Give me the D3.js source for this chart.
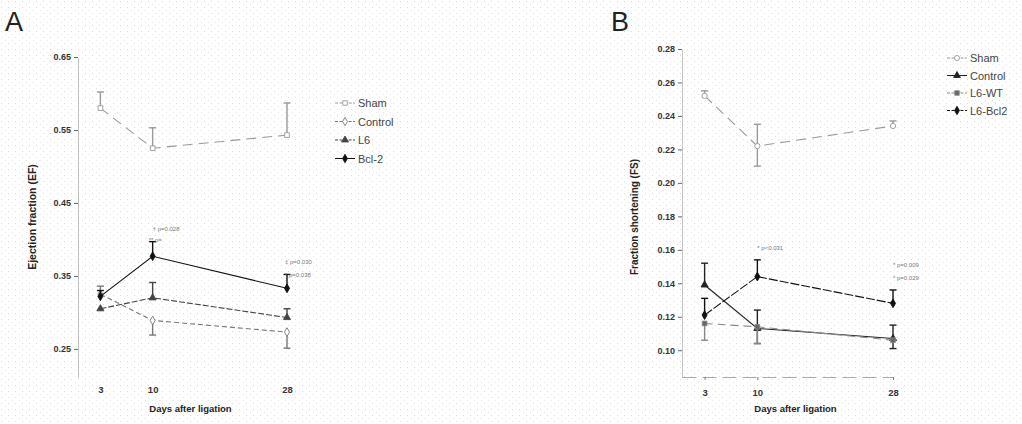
<!DOCTYPE html>
<html>
<head>
<meta charset="utf-8">
<script src="https://cdn.jsdelivr.net/npm/d3@7"></script>
<style>
  body { margin: 0; background: #fff; }
  svg { font-family: "Liberation Sans", Arial, sans-serif; }
  .tick text { font-weight: bold; fill: #333; }
</style>
</head>
<body>
<div id="chart"></div>
<script>
var width = 1022,
    height = 424;

// days after ligation
var days = [3, 10, 28];

// panel A - ejection fraction
var aNames = ["Sham", "Control", "L6", "Bcl-2"];
var aSham = [0.580, 0.525, 0.543], aShamUp = [0.022, 0.028, 0.044], aShamDn = [0, 0, 0];
var aCtrl = [0.325, 0.289, 0.273], aCtrlUp = [0.011, 0, 0], aCtrlDn = [0, 0.020, 0.022];
var aL6 = [0.305, 0.320, 0.293], aL6Up = [0, 0.021, 0.012], aL6Dn = [0, 0, 0];
var aBcl = [0.322, 0.377, 0.333], aBclUp = [0.008, 0.020, 0.019], aBclDn = [0, 0, 0];
var aTicks = [0.25, 0.35, 0.45, 0.55, 0.65];

// panel B - fraction shortening
var bNames = ["Sham", "Control", "L6-WT", "L6-Bcl2"];
var bSham = [0.252, 0.222, 0.234], bShamUp = [0.003, 0.013, 0.003], bShamDn = [0, 0.012, 0];
var bCtrl = [0.139, 0.113, 0.107], bCtrlUp = [0.013, 0.011, 0.008], bCtrlDn = [0, 0.009, 0.006];
var bWT = [0.116, 0.114, 0.106], bWTUp = [0, 0, 0], bWTDn = [0.010, 0.010, 0];
var bBcl = [0.121, 0.144, 0.128], bBclUp = [0.010, 0.010, 0.008], bBclDn = [0, 0, 0];
var bTicks = [0.10, 0.12, 0.14, 0.16, 0.18, 0.20, 0.22, 0.24, 0.26, 0.28];

var svg = d3.select("#chart").append("svg")
    .attr("width", width)
    .attr("height", height);

// faint scan stipple
var pat = svg.append("defs").append("pattern")
    .attr("id", "stip").attr("width", 7).attr("height", 6)
    .attr("patternUnits", "userSpaceOnUse");
pat.append("rect").attr("x", 1).attr("y", 1).attr("width", 1).attr("height", 1).attr("fill", "#ddd");
pat.append("rect").attr("x", 5).attr("y", 4).attr("width", 1).attr("height", 1).attr("fill", "#e6e6e6");
svg.append("rect").attr("width", width).attr("height", height).attr("fill", "url(#stip)");

var styles = [
    { stroke: "#999", dash: "10,6", marker: "square", fill: "#fff" },
    { stroke: "#777", dash: "5,3", marker: "diamond", fill: "#fff" },
    { stroke: "#444", dash: "6,2", marker: "triangle", fill: "#444" },
    { stroke: "#111", dash: null, marker: "diamond", fill: "#111" }
];
var stylesB = [
    { stroke: "#999", dash: "10,6", marker: "circle", fill: "#fff" },
    { stroke: "#222", dash: null, marker: "triangle", fill: "#222" },
    { stroke: "#888", dash: "8,5", marker: "square", fill: "#666" },
    { stroke: "#111", dash: "9,2", marker: "diamond", fill: "#111" }
];

var symbols = {
    square: d3.symbolSquare,
    diamond: d3.symbolDiamond,
    triangle: d3.symbolTriangle,
    circle: d3.symbolCircle
};

function panel(opt) {
    var g = svg.append("g");
    var x = d3.scaleLinear().domain([0, 28]).range(opt.xr);
    var y = d3.scaleLinear().domain(opt.yd).range([377, opt.ytop]);

    var ya = g.append("g")
        .attr("transform", "translate(" + opt.xr[0] + ",0)")
        .call(d3.axisLeft(y).tickValues(opt.ticks).tickSize(4).tickSizeOuter(0).tickFormat(d3.format(".2f")));
    ya.select(".domain").attr("stroke", "#888").attr("stroke-dasharray", "1,1");
    ya.selectAll(".tick line").attr("stroke", "#666");
    ya.selectAll(".tick text").attr("font-size", 9);

    var xa = g.append("g")
        .attr("transform", "translate(0,377)")
        .call(d3.axisBottom(x).tickValues(days).tickSize(opt.xline ? 3 : 0).tickSizeOuter(0).tickPadding(9));
    xa.select(".domain").attr("stroke", opt.xline ? "#aaa" : "none").attr("stroke-dasharray", "14,6");
    xa.selectAll(".tick line").attr("stroke", "#777");
    xa.selectAll(".tick text").attr("font-size", 9.5).attr("fill", "#111");

    g.append("text")
        .attr("x", (x(0) + x(28)) / 2 + 8).attr("y", 412)
        .attr("text-anchor", "middle")
        .attr("font-size", 9.5).attr("font-weight", "bold").attr("fill", "#222")
        .text("Days after ligation");

    g.append("text")
        .attr("transform", "translate(" + opt.ylabX + ",217) rotate(-90)")
        .attr("text-anchor", "middle")
        .attr("font-size", opt.ylabSize).attr("font-weight", "bold").attr("fill", "#222")
        .text(opt.ylabel);

    g.append("text")
        .attr("x", opt.letterX).attr("y", 31)
        .attr("font-size", 27).attr("fill", "#222")
        .text(opt.letter);

    var line = d3.line().x(function (d) { return x(d[0]); }).y(function (d) { return y(d[1]); });

    opt.series.forEach(function (s, i) {
        var st = opt.styles[i];
        var pts = days.map(function (d, j) { return [d, s.v[j], s.up[j], s.dn[j]]; });

        g.append("path")
            .datum(pts)
            .attr("d", line)
            .attr("fill", "none")
            .attr("stroke", st.stroke)
            .attr("stroke-width", 1.1)
            .attr("stroke-dasharray", st.dash);

        pts.forEach(function (p) {
            var lo = y(p[1] - p[3]), hi = y(p[1] + p[2]);
            if (p[2] === 0 && p[3] === 0) return;
            g.append("line").attr("x1", x(p[0])).attr("x2", x(p[0]))
                .attr("y1", lo).attr("y2", hi).attr("stroke", st.stroke).attr("stroke-width", 1.4);
            [lo, hi].forEach(function (yy, k) {
                if ((k === 0 && p[3] === 0) || (k === 1 && p[2] === 0)) return;
                g.append("line").attr("x1", x(p[0]) - 3.5).attr("x2", x(p[0]) + 3.5)
                    .attr("y1", yy).attr("y2", yy).attr("stroke", st.stroke).attr("stroke-width", 1.4);
            });
        });

        g.selectAll(null)
            .data(pts)
            .enter().append("path")
            .attr("transform", function (d) { return "translate(" + x(d[0]) + "," + y(d[1]) + ")"; })
            .attr("d", d3.symbol().type(symbols[st.marker]).size(22))
            .attr("fill", st.fill)
            .attr("stroke", st.stroke)
            .attr("stroke-width", 0.9);
    });

    // significance notes
    opt.notes.forEach(function (n) {
        g.append("text")
            .attr("x", x(n.d) + n.dx).attr("y", y(n.v))
            .attr("font-size", 6).attr("fill", "#777")
            .text(n.t);
    });

    // legend
    var lg = g.append("g").attr("transform", "translate(" + opt.legX + "," + opt.legY + ")");
    opt.names.forEach(function (name, i) {
        var st = opt.styles[i];
        var row = lg.append("g").attr("transform", "translate(0," + (i * opt.legStep) + ")");
        row.append("line").attr("x1", 0).attr("x2", 20).attr("y1", 0).attr("y2", 0)
            .attr("stroke", st.stroke).attr("stroke-width", 1).attr("stroke-dasharray", st.dash ? "3,1.5" : null);
        row.append("path").attr("transform", "translate(10,0)")
            .attr("d", d3.symbol().type(symbols[st.marker]).size(20))
            .attr("fill", st.fill).attr("stroke", st.stroke).attr("stroke-width", 0.9);
        row.append("text").attr("x", 23).attr("y", 4)
            .attr("font-size", 11).attr("fill", "#444")
            .text(name);
    });
}

panel({
    letter: "A", letterX: 5,
    xr: [78, 287], yd: [0.2115, 0.65], ytop: 57, ticks: aTicks,
    ylabel: "Ejection  fraction (EF)", ylabX: 36, ylabSize: 10.5, xline: false,
    names: aNames, styles: styles,
    series: [
        { v: aSham, up: aShamUp, dn: aShamDn },
        { v: aCtrl, up: aCtrlUp, dn: aCtrlDn },
        { v: aL6, up: aL6Up, dn: aL6Dn },
        { v: aBcl, up: aBclUp, dn: aBclDn }
    ],
    notes: [
        { d: 10, dx: 0, v: 0.412, t: "† p=0.028" },
        { d: 10, dx: -4, v: 0.396, t: "** p=" },
        { d: 28, dx: -2, v: 0.366, t: "‡ p=0.030" },
        { d: 28, dx: -2, v: 0.348, t: "* p=0.038" }
    ],
    legX: 335, legY: 103, legStep: 18.5
});

panel({
    letter: "B", letterX: 611,
    xr: [682, 893], yd: [0.084, 0.28], ytop: 49, ticks: bTicks,
    ylabel: "Fraction  shortening  (FS)", ylabX: 638, ylabSize: 10, xline: true,
    names: bNames, styles: stylesB,
    series: [
        { v: bSham, up: bShamUp, dn: bShamDn },
        { v: bCtrl, up: bCtrlUp, dn: bCtrlDn },
        { v: bWT, up: bWTUp, dn: bWTDn },
        { v: bBcl, up: bBclUp, dn: bBclDn }
    ],
    notes: [
        { d: 10, dx: 0, v: 0.160, t: "* p<0.031" },
        { d: 28, dx: 0, v: 0.150, t: "* p=0.009" },
        { d: 28, dx: 0, v: 0.142, t: "* p=0.029" }
    ],
    legX: 947, legY: 58, legStep: 17.5
});
</script>
</body>
</html>
